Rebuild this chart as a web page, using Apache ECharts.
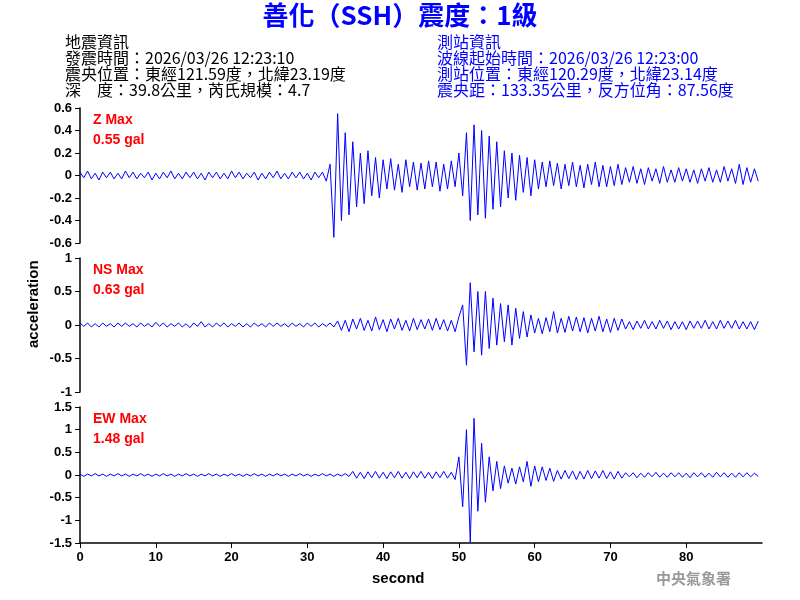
<!DOCTYPE html>
<html>
<head>
<meta charset="utf-8">
<script src="https://cdn.jsdelivr.net/npm/echarts@6/dist/echarts.min.js"></script>
<style>body{margin:0}#c{width:800px;height:600px}</style>
</head>
<body>
<div id="c"></div>
<script>
// sample step in seconds
var step = 0.5;

var zData = [0.03,-0.02,0.04,-0.03,0.02,-0.04,0.03,-0.02,0.03,-0.03,0.02,-0.03,0.04,-0.02,0.03,-0.03,0.02,-0.02,0.03,-0.04,0.02,-0.03,0.03,-0.02,0.04,-0.03,0.02,-0.03,0.03,-0.02,0.03,-0.03,0.02,-0.04,0.03,-0.02,0.03,-0.03,0.02,-0.03,0.04,-0.02,0.03,-0.03,0.02,-0.02,0.03,-0.04,0.02,-0.03,0.03,-0.02,0.04,-0.03,0.02,-0.03,0.03,-0.02,0.03,-0.03,0.02,-0.04,0.03,-0.02,0.03,-0.05,
  0.1,-0.55,0.55,-0.4,0.38,-0.35,0.3,-0.28,0.2,-0.25,0.22,-0.18,0.16,-0.2,
  0.14,-0.12,0.15,-0.13,0.1,-0.15,0.14,-0.1,0.12,-0.13,0.11,-0.12,0.13,-0.1,0.12,-0.14,0.1,-0.12,0.13,-0.1,0.2,-0.18,
  0.38,-0.4,0.45,-0.35,0.4,-0.38,0.35,-0.3,0.3,-0.28,
  0.22,-0.2,0.2,-0.22,0.18,-0.15,0.16,-0.18,0.14,-0.12,
  0.12,-0.1,0.13,-0.09,0.11,-0.12,0.1,-0.09,0.12,-0.1,0.09,-0.11,0.1,-0.08,0.12,-0.1,0.09,-0.1,0.08,-0.09,0.1,-0.08,
  0.07,-0.06,0.08,-0.07,0.06,-0.08,0.07,-0.05,0.06,-0.07,0.08,-0.06,0.05,-0.06,0.07,-0.05,0.06,-0.06,0.05,-0.07,0.06,-0.05,0.07,-0.06,0.05,-0.06,0.08,-0.05,0.06,-0.07,0.1,-0.08,0.07,-0.06,0.06,-0.05];

var nsData = [0.03,-0.02,0.03,-0.03,0.02,-0.03,0.03,-0.02,0.02,-0.03,0.03,-0.02,0.03,-0.02,0.02,-0.03,0.03,-0.02,0.02,-0.03,0.04,-0.02,0.03,-0.03,0.02,-0.02,0.03,-0.03,0.02,-0.04,0.03,-0.02,0.05,-0.03,0.02,-0.03,0.03,-0.02,0.03,-0.03,0.02,-0.02,0.03,-0.03,0.02,-0.03,0.03,-0.02,0.02,-0.03,0.03,-0.02,0.03,-0.02,0.02,-0.03,0.03,-0.02,0.02,-0.03,0.03,-0.02,0.03,-0.03,0.02,-0.02,0.03,-0.03,
  0.06,-0.08,0.07,-0.1,0.09,-0.06,0.1,-0.08,0.07,-0.09,0.12,-0.07,0.08,-0.1,0.09,-0.06,0.1,-0.08,0.07,-0.09,0.1,-0.07,0.08,-0.06,0.09,-0.08,0.1,-0.07,0.08,-0.09,0.07,-0.1,0.12,
  0.3,-0.6,0.63,-0.4,0.5,-0.45,0.5,-0.35,0.4,
  -0.3,0.32,-0.25,0.3,-0.3,0.25,-0.2,0.2,-0.18,0.15,
  -0.12,0.1,-0.13,0.11,-0.1,0.2,-0.12,0.1,-0.11,0.13,-0.09,0.12,-0.1,0.11,-0.12,0.1,-0.09,0.13,-0.1,0.09,-0.11,0.1,-0.08,0.09,
  -0.06,0.05,-0.07,0.06,-0.05,0.07,-0.06,0.05,-0.06,0.07,-0.05,0.06,-0.07,0.05,-0.06,0.05,-0.07,0.06,-0.05,0.06,-0.05,0.07,-0.06,0.05,-0.06,0.07,-0.05,0.06,-0.05,0.07,-0.06,0.05,-0.06,0.05,-0.07,0.06];

var ewData = [0.02,-0.03,0.02,-0.02,0.03,-0.02,0.02,-0.03,0.02,-0.02,0.03,-0.02,0.02,-0.03,0.02,-0.02,0.03,-0.02,0.02,-0.03,0.02,-0.02,0.03,-0.02,0.02,-0.03,0.02,-0.02,0.03,-0.02,0.02,-0.03,0.02,-0.02,0.03,-0.02,0.02,-0.03,0.02,-0.02,0.03,-0.02,0.02,-0.03,0.02,-0.02,0.03,-0.02,0.02,-0.03,0.02,-0.02,0.03,-0.02,0.02,-0.03,0.02,-0.02,0.03,-0.02,0.02,-0.03,0.02,-0.02,0.03,-0.02,0.02,-0.03,0.02,-0.02,0.03,-0.03,
  0.08,-0.07,0.06,-0.08,0.07,-0.06,0.08,-0.07,0.06,-0.08,0.07,-0.06,0.08,-0.07,0.06,-0.08,0.07,-0.06,0.08,-0.07,0.06,-0.08,0.07,-0.06,0.08,-0.07,0.06,-0.1,
  0.4,-0.7,1.0,
  -1.48,1.25,-0.8,
  0.7,-0.6,0.4,-0.35,0.3,-0.3,
  0.2,-0.18,0.15,-0.2,0.18,-0.15,0.3,-0.25,0.2,-0.15,0.18,-0.12,0.15,-0.14,
  0.1,-0.09,0.1,-0.08,0.09,-0.1,0.08,-0.09,0.1,-0.08,0.09,-0.07,0.1,-0.08,0.07,-0.09,0.08,-0.07,
  0.05,-0.04,0.05,-0.06,0.04,-0.05,0.05,-0.04,0.06,-0.05,0.04,-0.05,0.05,-0.04,0.05,-0.05,0.04,-0.06,0.05,-0.04,0.05,-0.05,0.04,-0.05,0.06,-0.04,0.05,-0.05,0.04,-0.05,0.05,-0.04,0.05,-0.04,0.04,-0.03];

var traces = [
  {name: 'Z', max: '0.55 gal', lim: 0.6, interval: 0.2, data: zData},
  {name: 'NS', max: '0.63 gal', lim: 1, interval: 0.5, data: nsData},
  {name: 'EW', max: '1.48 gal', lim: 1.5, interval: 0.5, data: ewData}
];
var tops = [108, 258, 407];
var heights = [135, 134, 136];

function pairs(arr) {
  return arr.map(function (v, i) { return [i * step, v]; });
}

var font = 'Liberation Sans, Arial, sans-serif';
var grids = [], xAxes = [], yAxes = [], series = [], texts = [];
traces.forEach(function (t, k) {
  grids.push({left: 80, width: 682, top: tops[k], height: heights[k]});
  xAxes.push({
    gridIndex: k, type: 'value', min: 0, max: 90, interval: 10,
    show: k === 2,
    axisLine: {onZero: false, lineStyle: {color: '#000', width: 1.5}},
    axisTick: {lineStyle: {color: '#000'}, length: 5},
    splitLine: {show: false},
    axisLabel: {color: '#000', fontSize: 13, fontWeight: 'bold', fontFamily: font, showMaxLabel: false}
  });
  yAxes.push({
    gridIndex: k, type: 'value', min: -t.lim, max: t.lim, interval: t.interval,
    axisLine: {show: true, lineStyle: {color: '#000', width: 1.5}},
    axisTick: {show: true, lineStyle: {color: '#000'}, length: 5},
    splitLine: {show: false},
    axisLabel: {color: '#000', fontSize: 13, fontWeight: 'bold', fontFamily: font,
      formatter: function (v) { return +v.toFixed(1); }}
  });
  series.push({
    type: 'line', xAxisIndex: k, yAxisIndex: k, data: pairs(t.data),
    showSymbol: false, lineStyle: {color: '#0000ff', width: 1}, animation: false
  });
  texts.push({type: 'text', left: 93, top: tops[k] + 2,
    style: {text: t.name + ' Max\n' + t.max, fill: '#ff0000', font: 'bold 14px ' + font, lineHeight: 20}});
});

var cjk = '"Noto Sans CJK TC", sans-serif';
texts.push(
  {type: 'text', left: 'center', top: 2,
    style: {text: '善化（SSH）震度：1級', fill: '#0000ff', font: 'bold 26px ' + cjk}},
  {type: 'text', left: 65, top: 34,
    style: {text: '地震資訊\n發震時間：2026/03/26 12:23:10\n震央位置：東經121.59度，北緯23.19度\n深　度：39.8公里，芮氏規模：4.7',
      fill: '#000', font: '16px ' + cjk, lineHeight: 16}},
  {type: 'text', left: 437, top: 34,
    style: {text: '測站資訊\n波線起始時間：2026/03/26 12:23:00\n測站位置：東經120.29度，北緯23.14度\n震央距：133.35公里，反方位角：87.56度',
      fill: '#0000ff', font: '16px ' + cjk, lineHeight: 16}},
  {type: 'text', left: 372, top: 571,
    style: {text: 'second', fill: '#000', font: 'bold 15px ' + font}},
  {type: 'text', x: 26, y: 348, rotation: Math.PI / 2,
    style: {text: 'acceleration', fill: '#000', font: 'bold 15px ' + font}},
  {type: 'text', left: 656, top: 571,
    style: {text: '中央氣象署', fill: '#999', font: 'bold 15px ' + cjk}}
);

var chart = echarts.init(document.getElementById('c'));
chart.setOption({
  backgroundColor: '#fff',
  animation: false,
  grid: grids, xAxis: xAxes, yAxis: yAxes, series: series,
  graphic: texts
});
</script>
</body>
</html>
